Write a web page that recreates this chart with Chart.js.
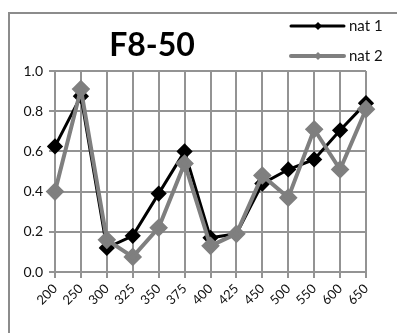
<!DOCTYPE html>
<html lang="en">
<head>
  <meta charset="UTF-8">
  <title>F8-50</title>
  <script src="https://cdn.jsdelivr.net/npm/chart.js@4/dist/chart.umd.min.js"></script>
  <style>
    body { margin: 0; background: #fff; }
    #wrap { position: relative; width: 397px; height: 333px; overflow: hidden; }
    #frame { position: absolute; left: 8px; top: 12px; width: 420px; height: 360px; border: 2px solid #8c8c8c; }
    canvas { position: absolute; left: 0; top: 0; }
  </style>
</head>
<body>
  <div id="wrap">
    <div id="frame"></div>
    <canvas id="chart" width="397" height="333"></canvas>
  </div>
  <script>
    const categories = ['200', '250', '300', '325', '350', '375', '400', '425', '450', '500', '550', '600', '650'];
    const nat1 = [0.625, 0.875, 0.12, 0.18, 0.39, 0.60, 0.17, 0.19, 0.44, 0.51, 0.56, 0.705, 0.84];
    const nat2 = [0.40, 0.91, 0.16, 0.075, 0.22, 0.54, 0.13, 0.19, 0.48, 0.37, 0.71, 0.51, 0.81];
    const titleText = 'F8-50';

    const FONT = 'Lato, "Open Sans", sans-serif';

    // title and legend drawn by hand so they sit where the original has them
    const headerPlugin = {
      id: 'header',
      afterDraw(chart) {
        const ctx = chart.ctx;
        ctx.save();
        ctx.fillStyle = '#000';
        ctx.font = 'bold 32px ' + FONT;
        ctx.textAlign = 'center';
        ctx.textBaseline = 'middle';
        ctx.fillText(titleText, 152, 46);

        const rows = [
          { ds: chart.data.datasets[0], y: 26 },
          { ds: chart.data.datasets[1], y: 56 }
        ];
        rows.forEach(r => {
          ctx.strokeStyle = r.ds.borderColor;
          ctx.lineWidth = r.ds.borderWidth;
          ctx.lineCap = 'round';
          ctx.beginPath();
          ctx.moveTo(291, r.y);
          ctx.lineTo(344, r.y);
          ctx.stroke();
          ctx.fillStyle = r.ds.borderColor;
          ctx.beginPath();
          ctx.moveTo(318, r.y - 4);
          ctx.lineTo(322, r.y);
          ctx.lineTo(318, r.y + 4);
          ctx.lineTo(314, r.y);
          ctx.closePath();
          ctx.fill();
          ctx.fillStyle = '#111';
          ctx.font = '15px ' + FONT;
          ctx.textAlign = 'left';
          ctx.fillText(r.ds.label, 349, r.y);
        });
        ctx.restore();
      }
    };

    new Chart(document.getElementById('chart'), {
      type: 'line',
      data: {
        labels: categories,
        datasets: [
          {
            label: 'nat 1',
            data: nat1,
            borderColor: '#000',
            backgroundColor: '#000',
            borderWidth: 3,
            pointStyle: 'rectRot',
            pointRadius: 6,
            tension: 0,
            order: 1
          },
          {
            label: 'nat 2',
            data: nat2,
            borderColor: '#7f7f7f',
            backgroundColor: '#7f7f7f',
            borderWidth: 4,
            pointStyle: 'rectRot',
            pointRadius: 6.5,
            tension: 0,
            order: 0
          }
        ]
      },
      options: {
        responsive: false,
        animation: false,
        layout: { padding: { top: 71, left: 8, right: 31, bottom: 0 } },
        plugins: {
          legend: { display: false },
          title: { display: false },
          tooltip: { enabled: false }
        },
        scales: {
          x: {
            offset: false,
            afterFit: s => { s.height = 61; },
            grid: { color: '#939393', lineWidth: 2, tickLength: 6 },
            border: { color: '#939393', width: 2 },
            ticks: {
              color: '#111',
              font: { family: FONT, size: 13 },
              autoSkip: false,
              minRotation: 45,
              maxRotation: 45,
              padding: 3
            }
          },
          y: {
            min: 0,
            max: 1,
            afterFit: s => { s.width = 47; },
            grid: { color: '#939393', lineWidth: 2, tickLength: 6 },
            border: { color: '#939393', width: 2 },
            ticks: {
              stepSize: 0.2,
              color: '#111',
              font: { family: FONT, size: 14 },
              padding: 6,
              callback: v => v.toFixed(1)
            }
          }
        }
      },
      plugins: [headerPlugin]
    });
  </script>
</body>
</html>
